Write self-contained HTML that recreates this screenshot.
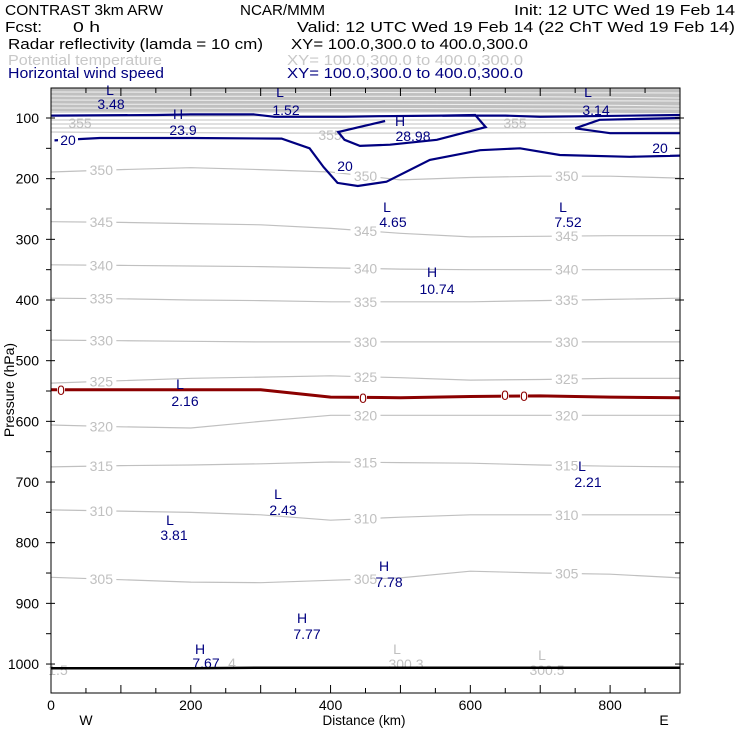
<!DOCTYPE html>
<html><head><meta charset="utf-8"><style>
body{margin:0;background:#fff;width:740px;height:740px;overflow:hidden}
svg{display:block}
text{font-family:"Liberation Sans",sans-serif;font-size:14px}
.h{font-size:15px}
</style></head><body>
<svg id="chart" width="740" height="740" viewBox="0 0 740 740">
<g fill="#000" class="h">
<text class="h" x="5" y="15" textLength="158" lengthAdjust="spacingAndGlyphs">CONTRAST  3km ARW</text>
<text class="h" x="240" y="15" textLength="85" lengthAdjust="spacingAndGlyphs">NCAR/MMM</text>
<text class="h" x="514" y="15" textLength="221" lengthAdjust="spacingAndGlyphs">Init: 12 UTC Wed 19 Feb 14</text>
<text class="h" x="5" y="32" textLength="37" lengthAdjust="spacingAndGlyphs">Fcst:</text>
<text class="h" x="73" y="32" textLength="27" lengthAdjust="spacingAndGlyphs">0 h</text>
<text class="h" x="297" y="32" textLength="438" lengthAdjust="spacingAndGlyphs">Valid: 12 UTC Wed 19 Feb 14 (22 ChT Wed 19 Feb 14)</text>
<text class="h" x="8" y="49" textLength="255" lengthAdjust="spacingAndGlyphs">Radar reflectivity (lamda = 10 cm)</text>
<text class="h" x="291" y="49" textLength="237" lengthAdjust="spacingAndGlyphs">XY= 100.0,300.0 to 400.0,300.0</text>
<text class="h" x="8" y="65" fill="#c8c8c8" textLength="154" lengthAdjust="spacingAndGlyphs">Potential temperature</text>
<text class="h" x="287" y="65" fill="#c8c8c8" textLength="236" lengthAdjust="spacingAndGlyphs">XY= 100.0,300.0 to 400.0,300.0</text>
<text class="h" x="8" y="78" fill="#000080" textLength="156" lengthAdjust="spacingAndGlyphs">Horizontal wind speed</text>
<text class="h" x="287" y="78" fill="#000080" textLength="236" lengthAdjust="spacingAndGlyphs">XY= 100.0,300.0 to 400.0,300.0</text>
</g>
<g id="plot"></g>
</svg>
<script>
const xKm=[0,100,200,300,400,500,600,700,800,900];
const thetaLevels=[350,345,340,335,330,325,320,315,310,305];
const thetaP=[
[189,185,182,185,189,202,198,196,196,199],
[271,272,274,276,282,290,296,295,294,294],
[342,343,344,345,347,349,350,350,350,350],
[397,398,400,401,403,403,403,401,399,397],
[466,467,468,469,469,469,469,469,469,469],
[537,533,529,527,525,528,532,531,529,529],
[606,609,611,600,590,590,590,590,590,590],
[675,673,672,670,667,668,669,672,674,675],
[746,748,750,754,763,758,754,754,754,754],
[857,861,865,866,862,858,847,850,852,858]];
const freezeP=[548,548,548,548,560,561,559,558,560,561];
const groundP=[1007,1007,1007,1006,1006,1006,1006,1006,1006,1006];
const wind20Km=[5,70,200,330,370,390,410,439,480,542,614,671,728,828,900];
const wind20P=[137,133,133,134,150,181,207,212,205,169,153,150,161,164,162];
const windUpperKm=[0,150,200,290,320,420,470,560,650,700,900];
const windUpperP=[96,95,94,94,98,98,97,96,96,98,95];
const windLoopKm=[478,411,420,442,485,552,622,607,560];
const windLoopP=[105,123,136,146,144,136,115,95,96];
const windRightKm=[750,785,900];
const windRightP=[117,103,100];
const windRight2Km=[750,800,900];
const windRight2P=[117,125,125];
const yTicks=[100,200,300,400,500,600,700,800,900,1000];
const xTicks=[0,200,400,600,800];
const extremaLabels=[["L","3.48",110,90,111,104],["L","1.52",280,92,286,110],["L","3.14",588,92,596,110],["H","23.9",178,114,183,130],["H","28.98",400,121,413,136],["L","4.65",387,207,393,222],["L","7.52",563,207,568,222],["H","10.74",432,272,437,289],["L","2.16",180,384,185,401],["L","2.21",582,466,588,482],["L","2.43",278,494,283,510],["L","3.81",170,520,174,535],["H","7.78",384,566,389,582],["H","7.77",302,618,307,634],["H","7.67",200,649,206,663]];
const thetaExtrema=[["L","300.3",397,649,406,664],["L","300.5",542,655,547,670],["","1.5",58,0,58,670],["","4",232,0,232,663]];
const NS="http://www.w3.org/2000/svg";
const L=51,R=680,T=88,B=693;
const X=km=>L+km*(R-L)/900;
const Y=p=>118+(p-100)*0.6067;
const plot=document.getElementById('plot');
function mk(tag,attrs,parent){const e=document.createElementNS(NS,tag);for(const k in attrs)e.setAttribute(k,attrs[k]);(parent||plot).appendChild(e);return e;}
function pathOf(ks,ps){return ks.map((k,i)=>(i?'L':'M')+X(k).toFixed(1)+','+Y(ps[i]).toFixed(1)).join(' ');}
let band=mk('rect',{x:L,y:T,width:R-L,height:25,fill:'#c0c0c0'});


for(let i=0;i<6;i++){let w=mk('path',{d:`M${L},${92+i*4} C250,${93+i*4} 450,${91+i*4} ${R},${93+i*4+(i%2)}`,stroke:'#f0f0f0','stroke-width':1,fill:'none'});

}
for(let i=0;i<5;i++){let g=mk('path',{d:`M${L},${116+i*4} C200,${117+i*4} 400,${114+i*5} ${R},${116+i*4}`,stroke:'#c0c0c0','stroke-width':1,fill:'none'});

}
thetaLevels.forEach((lv,i)=>{
 let p=mk('path',{d:pathOf(xKm,thetaP[i]),stroke:'#c0c0c0','stroke-width':1.2,fill:'none'});
 
 
 [0.08,0.5,0.82].forEach(f=>{const k=f*900;const j=Math.min(8,Math.floor(k/100));const pp=thetaP[i][j]+(thetaP[i][j+1]-thetaP[i][j])*(k/100-j);
 mk('rect',{x:X(k)-15,y:Y(pp)-7,width:30,height:14,fill:'#fff'});
 let t=mk('text',{x:X(k),y:Y(pp)+5,fill:'#c0c0c0','text-anchor':'middle'});t.textContent=lv;
 
 });
});
[[80,128],[330,140],[515,128]].forEach(a=>{let t=mk('text',{x:a[0],y:a[1],fill:'#c0c0c0','text-anchor':'middle'});t.textContent='355';

});
let fz=mk('path',{d:pathOf(xKm,freezeP),stroke:'#8b0000','stroke-width':3,fill:'none'});


[[61,391],[363,399],[505,396],[524,397]].forEach(a=>{mk('rect',{x:a[0]-4,y:a[1]-6,width:8,height:11,fill:'#fff'});let t=mk('text',{x:a[0],y:a[1]+4,fill:'#8b0000','font-size':'10','text-anchor':'middle'});t.textContent='0';

});
[[wind20Km,wind20P],[windUpperKm,windUpperP],[windLoopKm,windLoopP],[windRightKm,windRightP],[windRight2Km,windRight2P]].forEach(w=>{
 let p=mk('path',{d:pathOf(w[0],w[1]),stroke:'#000080','stroke-width':2.2,fill:'none'});
 
 });
[[68,145],[345,171],[660,153]].forEach(a=>{mk('rect',{x:a[0]-10,y:a[1]-11,width:20,height:13,fill:'#fff'});let t=mk('text',{x:a[0],y:a[1],fill:'#000080','text-anchor':'middle'});t.textContent='20';

});
extremaLabels.forEach(e=>{
 let a=mk('text',{x:e[2],y:e[3]+5,fill:'#000080','text-anchor':'middle'});a.textContent=e[0];
 
 
 let b=mk('text',{x:e[4],y:e[5]+5,fill:'#000080','text-anchor':'middle'});b.textContent=e[1];
 
 });
thetaExtrema.forEach(e=>{
 let a=mk('text',{x:e[2],y:e[3]+5,fill:'#c0c0c0','text-anchor':'middle'});a.textContent=e[0];
 
 
 let b=mk('text',{x:e[4],y:e[5]+5,fill:'#c0c0c0','text-anchor':'middle'});b.textContent=e[1];
 
 });
let gr=mk('path',{d:pathOf(xKm,groundP),stroke:'#000','stroke-width':2.5,fill:'none'});


let fr=mk('rect',{x:L,y:T,width:R-L,height:B-T,fill:'none',stroke:'#000','stroke-width':1});


for(let k=0;k<=900;k+=50){const len=k%100?5:8;
 mk('line',{x1:X(k),x2:X(k),y1:T,y2:T+len,stroke:'#000'});
 mk('line',{x1:X(k),x2:X(k),y1:B,y2:B-len,stroke:'#000'});}
for(let p=100;p<=1000;p+=50){
 mk('line',{x1:L-5,x2:L+(p%100?0:4),y1:Y(p),y2:Y(p),stroke:'#000'});
 mk('line',{x1:R-5,x2:R+(p%100?0:4),y1:Y(p),y2:Y(p),stroke:'#000'});}
yTicks.forEach(p=>{let t=mk('text',{x:39,y:Y(p)+5,'text-anchor':'end','font-size':'13'});t.textContent=p;
 
 });
xTicks.forEach(k=>{let t=mk('text',{x:X(k),y:710,'text-anchor':'middle','font-size':'13'});t.textContent=k;
 
 });
let xt=mk('text',{x:364,y:725,'text-anchor':'middle',textLength:83,lengthAdjust:'spacingAndGlyphs'});xt.textContent='Distance (km)';


let w=mk('text',{x:86,y:725,'text-anchor':'middle'});w.textContent='W';


let e=mk('text',{x:664,y:725,'text-anchor':'middle'});e.textContent='E';


let yt=mk('text',{x:14,y:390,'text-anchor':'middle',transform:'rotate(-90 14 390)'});yt.textContent='Pressure (hPa)';


</script>
</body></html>
